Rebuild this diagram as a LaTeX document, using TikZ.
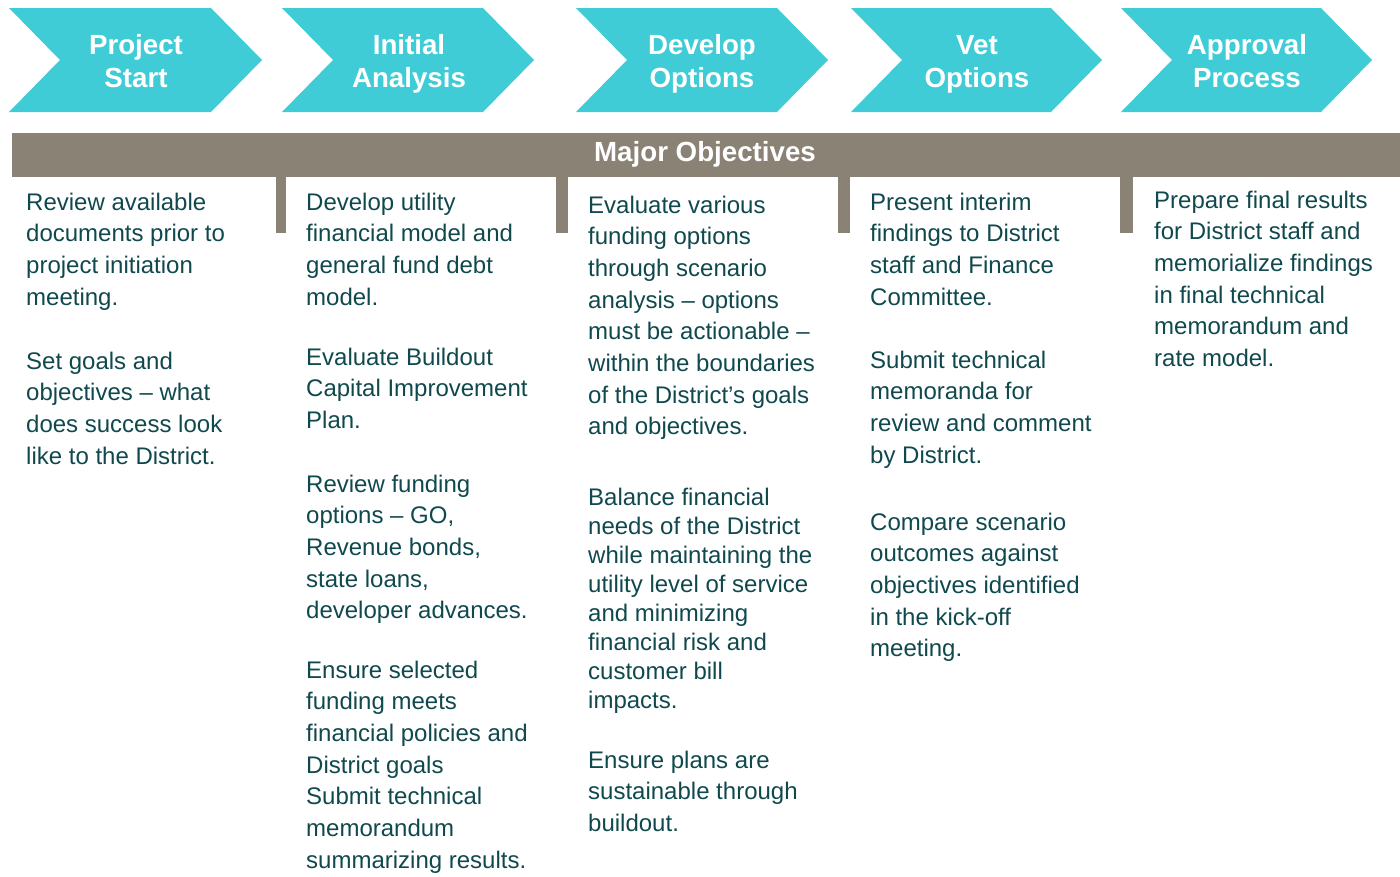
\documentclass[tikz,border=0pt]{standalone}
\usepackage{fontspec}
\setmainfont{Liberation Sans}
\definecolor{chevfill}{RGB}{64,204,214}
\definecolor{bargray}{RGB}{139,130,118}
\definecolor{bodytext}{RGB}{16,73,77}
% multi-line nodes are anchored at the baseline of their last line
\tikzset{
  chevron/.style={fill=chevfill},
  chevlabel/.style={inner sep=0pt, align=center, text=white,
    font=\fontsize{27.7}{33}\selectfont\bfseries, anchor=base},
  barlabel/.style={inner sep=0pt, text=white,
    font=\fontsize{27.7}{33}\selectfont\bfseries, anchor=base},
  bodypara/.style={inner sep=0pt, align=left, text=bodytext, anchor=base west,
    font=\fontsize{24}{31.7}\selectfont},
  tightpara/.style={bodypara, font=\fontsize{24}{29}\selectfont},
  tooth/.style={fill=bargray}
}
\begin{document}
\begin{tikzpicture}[x=1pt,y=-1pt]
\useasboundingbox (0,0) rectangle (1400,876);

% process chevrons: left edge and flat-top length
\foreach \lx/\w in {9/202,282/201,576/201,851/200,1121/200}{
  \fill[chevron] (\lx,8) -- ++(\w,0) -- ++(51,52) -- ++(-51,52) -- ++(-\w,0) -- ++(51,-52) -- cycle;
}
\node[chevlabel] (c1) at (136,87) {Project\\Start};
\node[chevlabel] (c2) at (409,87) {Initial\\Analysis};
\node[chevlabel] (c3) at (702,87) {Develop\\Options};
\node[chevlabel] (c4) at (977,87) {Vet\\Options};
\node[chevlabel] (c5) at (1247,87) {Approval\\Process};

% objectives bar with column separators
\fill[bargray] (12,133) rectangle (1400,177);
\fill[tooth] (276,176) rectangle (286,233);
\fill[tooth] (556,176) rectangle (568,233);
\fill[tooth] (838,176) rectangle (850,233);
\fill[tooth] (1120,176) rectangle (1133,233);
\node[barlabel] (hdr) at (705,161) {Major Objectives};

% column 1
\node[bodypara] (p11) at (26,305.1) {Review available\\documents prior to\\project initiation\\meeting.};
\node[bodypara] (p12) at (26,464.1) {Set goals and\\objectives -- what\\does success look\\like to the District.};

% column 2
\node[bodypara] (p21) at (306,305.1) {Develop utility\\financial model and\\general fund debt\\model.};
\node[bodypara] (p22) at (306,428.4) {Evaluate Buildout\\Capital Improvement\\Plan.};
\node[bodypara] (p23) at (306,618.8) {Review funding\\options -- GO,\\Revenue bonds,\\state loans,\\developer advances.};
\node[bodypara] (p24) at (306,868.2) {Ensure selected\\funding meets\\financial policies and\\District goals\\Submit technical\\memorandum\\summarizing results.};

% column 3
\node[bodypara] (p31) at (588,434.9) {Evaluate various\\funding options\\through scenario\\analysis -- options\\must be actionable --\\within the boundaries\\of the District’s goals\\and objectives.};
\node[tightpara] (p32) at (588,708) {Balance financial\\needs of the District\\while maintaining the\\utility level of service\\and minimizing\\financial risk and\\customer bill\\impacts.};
\node[bodypara] (p33) at (588,831.4) {Ensure plans are\\sustainable through\\buildout.};

% column 4
\node[bodypara] (p41) at (870,305.1) {Present interim\\findings to District\\staff and Finance\\Committee.};
\node[bodypara] (p42) at (870,463.1) {Submit technical\\memoranda for\\review and comment\\by District.};
\node[bodypara] (p43) at (870,656.8) {Compare scenario\\outcomes against\\objectives identified\\in the kick-off\\meeting.};

% column 5
\node[bodypara] (p51) at (1154,366.5) {Prepare final results\\for District staff and\\memorialize findings\\in final technical\\memorandum and\\rate model.};
\end{tikzpicture}
\end{document}
